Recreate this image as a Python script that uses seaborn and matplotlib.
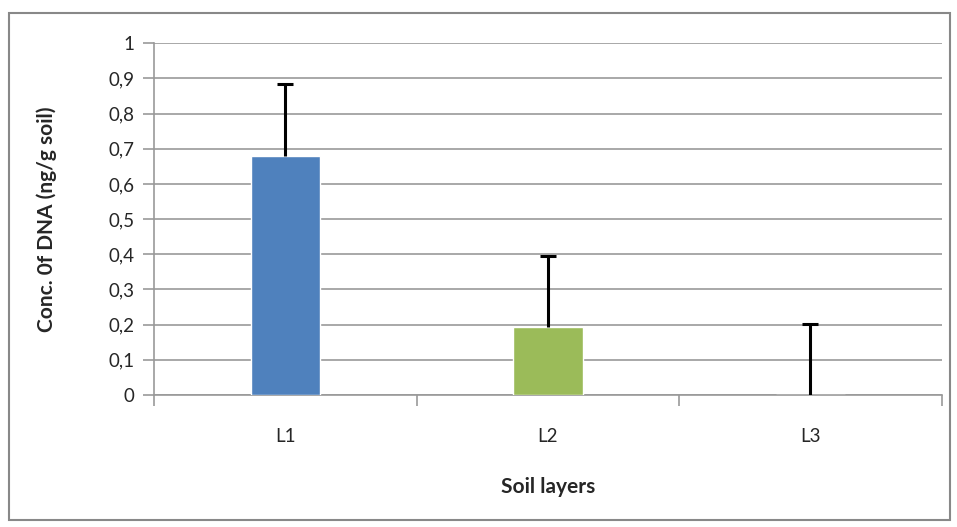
import matplotlib
matplotlib.use("Agg")
import matplotlib.pyplot as plt
import pandas as pd
import seaborn as sns
from matplotlib.patches import Rectangle
from matplotlib.ticker import FuncFormatter, FixedLocator

layers = ["L1", "L2", "L3"]
conc = [0.678, 0.193, 0.0]
err_up = [0.205, 0.202, 0.203]
colors = ["#4f81bd", "#9bbb59", "#c0504d"]
yticks = [0, 0.1, 0.2, 0.3, 0.4, 0.5, 0.6, 0.7, 0.8, 0.9, 1.0]

df = pd.DataFrame({"layer": layers, "conc": conc})

sns.set_style("white")
plt.rcParams["font.family"] = ["Lato", "DejaVu Sans"]

fig = plt.figure(figsize=(9.57, 5.27), dpi=100)
ax = fig.add_axes([0.161, 0.2505, 0.823, 0.6675])

sns.barplot(data=df, x="layer", y="conc", hue="layer", palette=colors,
            width=0.265, legend=False, ax=ax, zorder=3, saturation=1)
_, caps, _ = ax.errorbar(range(len(layers)), conc, yerr=[[0, 0, 0], err_up], fmt="none",
                         ecolor="black", elinewidth=2.2, capsize=6, capthick=2.2, zorder=4)
# only the upper cap, like the original
caps[0].set_visible(False)


def comma_fmt(v, p):
    s = f"{v:.1f}".replace(".", ",")
    return s[:-2] if s.endswith(",0") else s


grid_c = "#999999"
ax.set_ylim(0, 1)
ax.set_xlim(-0.5, 2.5)
ax.set_yticks(yticks)
ax.yaxis.set_major_formatter(FuncFormatter(comma_fmt))
ax.grid(axis="y", color=grid_c, linewidth=1.2, zorder=0)
ax.set_axisbelow(True)

for s in ["top", "right"]:
    ax.spines[s].set_visible(False)
for s in ["left", "bottom"]:
    ax.spines[s].set_color(grid_c)
    ax.spines[s].set_linewidth(1.2)

ax.tick_params(axis="y", length=8, color=grid_c, width=1.2, labelsize=13.5, pad=6, left=True)
ax.tick_params(axis="x", which="major", length=0, labelsize=13.5, pad=24)
ax.xaxis.set_minor_locator(FixedLocator([-0.5, 0.5, 1.5, 2.5]))
ax.tick_params(axis="x", which="minor", length=8, color=grid_c, width=1.2, bottom=True)

ax.set_xlabel("Soil layers", fontsize=15, fontweight="bold", labelpad=23)
ax.set_ylabel("Conc. 0f DNA (ng/g soil)", fontsize=15, fontweight="bold", labelpad=37)

fig.patches.append(Rectangle((9 / 957, 1 - 520 / 527), 941 / 957, 507 / 527,
                             transform=fig.transFigure, fill=False,
                             edgecolor="#888888", linewidth=1.5))

fig.savefig("out.png", dpi=100)
